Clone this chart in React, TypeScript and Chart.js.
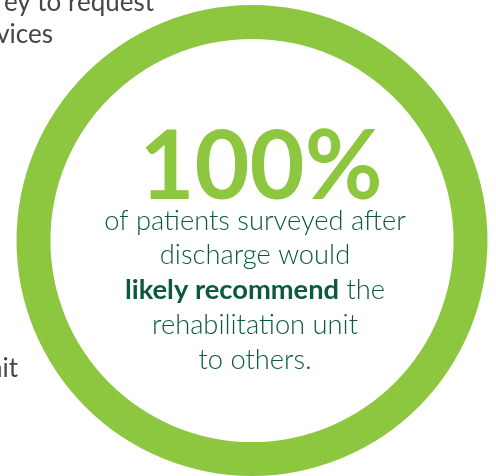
import React, { useEffect, useRef } from "react";
import { Chart, registerables } from "chart.js";

Chart.register(...registerables);

const categories: string[] = ["Would likely recommend"];
const values: number[] = [100];
const headline = "100%";
const bodyLines: { text: string; bold: boolean }[][] = [
  [{ text: "of patients surveyed after", bold: false }],
  [{ text: "discharge would", bold: false }],
  [
    { text: "likely recommend", bold: true },
    { text: " the", bold: false },
  ],
  [{ text: "rehabilitation unit", bold: false }],
  [{ text: "to others.", bold: false }],
];
const sideLines: string[] = ["ey to request", "vices", "nit"];

const RING = "#8DC63F";
const DARK = "#0B5A3F";
const FONT = "Lato, 'Open Sans', sans-serif";

export default function App() {
  const ref = useRef<HTMLCanvasElement | null>(null);
  useEffect(() => {
    if (!ref.current) return;
    const textPlugin = {
      id: "centerText",
      afterDraw(chart: any) {
        const ctx = chart.ctx as CanvasRenderingContext2D;
        const arc = chart.getDatasetMeta(0).data[0] as any;
        const cx = arc.x;
        const cy = arc.y;
        ctx.save();
        // side text (cut off fragments)
        ctx.fillStyle = "#474747";
        ctx.font = `400 26px ${FONT}`;
        ctx.textAlign = "right";
        ctx.textBaseline = "alphabetic";
        ctx.fillText(sideLines[0], 154, 11);
        ctx.fillText(sideLines[1], 53, 43);
        ctx.fillText(sideLines[2], 18, 377);
        // headline
        ctx.fillStyle = RING;
        ctx.font = `700 95px ${FONT}`;
        ctx.textAlign = "center";
        ctx.fillText(headline, cx + 9, cy - 42);
        // body lines
        const size = 27.3;
        bodyLines.forEach((parts, i) => {
          const y = cy - 11 + i * 34.8;
          let total = 0;
          parts.forEach((p) => {
            ctx.font = `${p.bold ? 700 : 300} ${size}px ${FONT}`;
            total += ctx.measureText(p.text).width;
          });
          let x = cx + 3 - total / 2;
          ctx.textAlign = "left";
          parts.forEach((p) => {
            ctx.font = `${p.bold ? 700 : 300} ${size}px ${FONT}`;
            ctx.fillStyle = DARK;
            ctx.fillText(p.text, x, y);
            x += ctx.measureText(p.text).width;
          });
        });
        ctx.restore();
      },
    };
    const chart = new Chart(ref.current, {
      type: "doughnut",
      data: {
        labels: categories,
        datasets: [
          {
            data: values,
            backgroundColor: [RING],
            borderWidth: 0,
          },
        ],
      },
      options: {
        animation: false,
        responsive: false,
        cutout: "85.6%",
        layout: { padding: { left: 8, right: 0, top: 5, bottom: 0 } },
        plugins: {
          legend: { display: false },
          tooltip: { enabled: false },
        },
      },
      plugins: [textPlugin],
    });
    return () => chart.destroy();
  }, []);
  return (
    <div style={{ position: "fixed", left: 0, top: 0, width: 496, height: 476, background: "#fff" }}>
      <canvas ref={ref} width={496} height={476} style={{ width: 496, height: 476 }} />
    </div>
  );
}
